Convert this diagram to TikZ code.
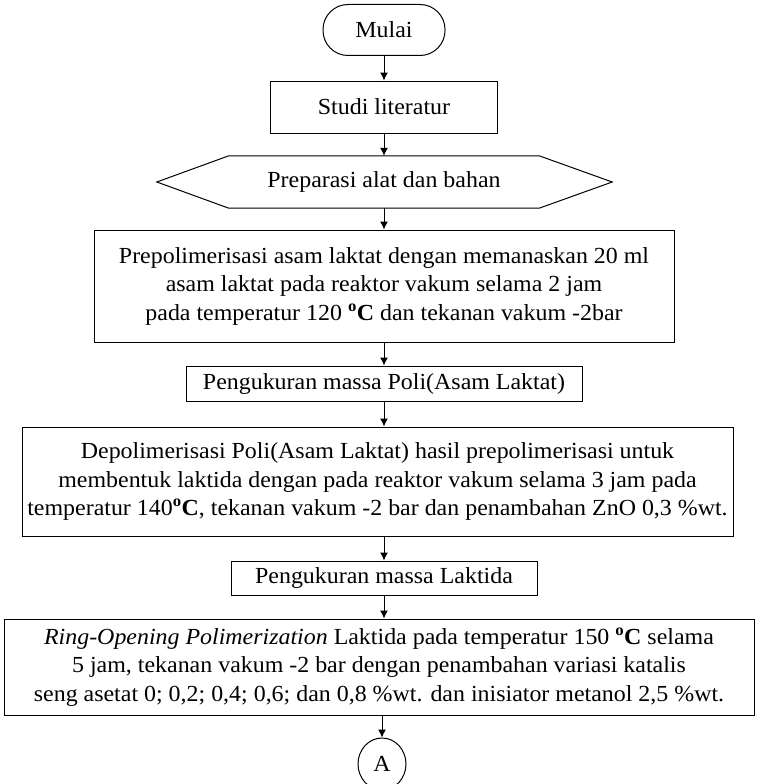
\documentclass[tikz,border=0pt]{standalone}
\usepackage{fontspec}
\setmainfont[FakeStretch=1.04]{Liberation Serif}
\usetikzlibrary{arrows.meta,calc,shapes.geometric}
\tikzset{
  boxnode/.style={draw, line width=1pt, align=center, inner sep=0pt},
  conn/.style={line width=1pt, -{Latex[length=8pt,width=8pt]}}
}
\newcommand{\degC}{\textbf{\textsuperscript{o}C}}
\begin{document}
\begin{tikzpicture}[x=1pt,y=-1pt,font=\fontsize{23}{28.5}\selectfont]
\useasboundingbox (0,0) rectangle (756,784);
\node[boxnode, minimum width=122pt, minimum height=51pt, rounded corners=25pt] (mulai) at (384,30) {Mulai};
\node[boxnode, minimum width=227pt, minimum height=52pt] (studi) at (384,107) {Studi literatur};
\node[inner sep=0pt, minimum width=310pt, minimum height=52pt] (prep) at (384,182) {Preparasi alat dan bahan};
\draw[line width=1pt] (prep.north west) -- (prep.north east) -- ($(prep.east)+(73,0)$) -- (prep.south east) -- (prep.south west) -- ($(prep.west)+(-72,0)$) -- cycle;
\node[boxnode, minimum width=580pt, minimum height=112pt] (prepol) at (384,286) {Prepolimerisasi asam laktat dengan memanaskan 20 ml\\asam laktat pada reaktor vakum selama 2 jam\\pada temperatur 120 \degC{} dan tekanan vakum -2bar};
\node[boxnode, minimum width=396pt, minimum height=35pt] (ukurpla) at (384,383.5) {Pengukuran massa Poli(Asam Laktat)};
\node[boxnode, minimum width=711pt, minimum height=109pt] (depol) at (377.5,481.5) {Depolimerisasi Poli(Asam Laktat) hasil prepolimerisasi untuk\\membentuk laktida dengan pada reaktor vakum selama 3 jam pada\\temperatur 140\degC, tekanan vakum -2 bar dan penambahan ZnO 0,3 \%wt.};
\node[boxnode, minimum width=306pt, minimum height=34pt] (ukurlak) at (384,578) {Pengukuran massa Laktida};
\node[boxnode, minimum width=750pt, minimum height=96pt] (rop) at (379,667) {\textit{Ring-Opening Polimerization} Laktida pada temperatur 150 \degC{} selama\\5 jam, tekanan vakum -2 bar dengan penambahan variasi katalis\\seng asetat 0; 0,2; 0,4; 0,6; dan 0,8 \%wt. dan inisiator metanol 2,5 \%wt.};
\node[draw, line width=1pt, ellipse, minimum width=48pt, minimum height=52pt, inner sep=0pt] (A) at (382,764) {A};
\draw[conn] (mulai.south) -- (studi.north);
\draw[conn] (studi.south) -- (prep.north);
\draw[conn] (prep.south) -- (prepol.north);
\draw[conn] (prepol.south) -- (ukurpla.north);
\draw[conn] (ukurpla.south) -- (ukurpla.south |- depol.north);
\draw[conn] (ukurpla.south |- depol.south) -- (ukurlak.north);
\draw[conn] (ukurlak.south) -- (ukurlak.south |- rop.north);
\draw[conn] (A.north |- rop.south) -- (A.north);
\end{tikzpicture}
\end{document}
